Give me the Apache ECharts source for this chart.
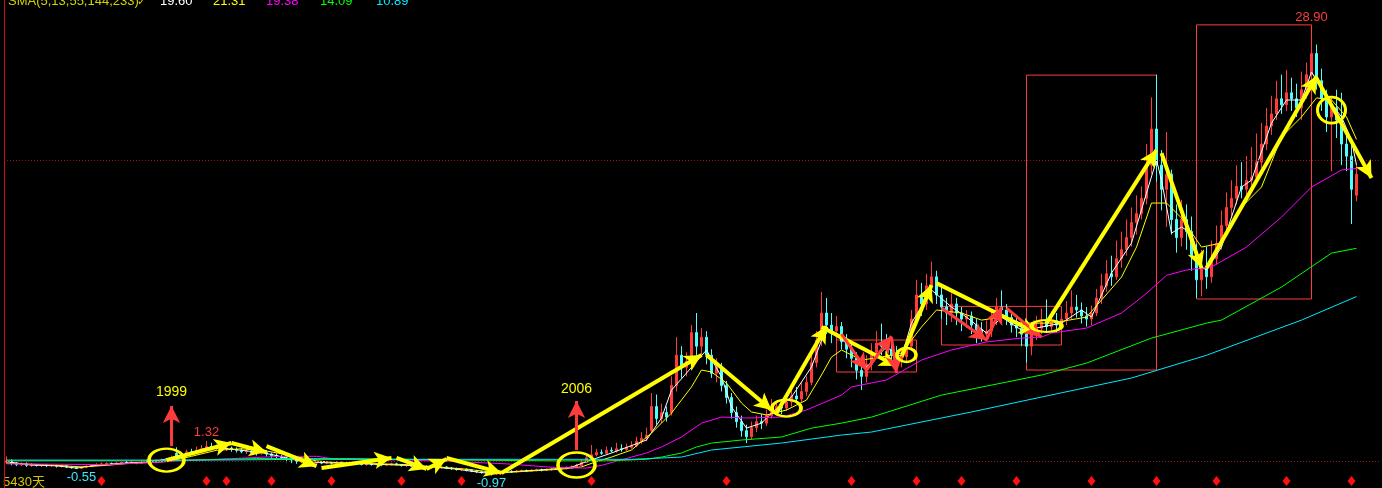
<!DOCTYPE html>
<html><head><meta charset="utf-8">
<script src="https://cdn.jsdelivr.net/npm/echarts@6/dist/echarts.min.js"></script>
<style>html,body{margin:0;padding:0;background:#000;overflow:hidden}#c{width:1382px;height:488px}</style>
</head><body><div id="c"></div>
<script>
// ---- data (open, close, low, high), one candle per slot ----
const candles = [
[-0.1,0.0,-0.2,0.3],[0.0,-0.15,-0.3,0.1],[-0.15,-0.25,-0.35,-0.05],[-0.25,-0.2,-0.35,-0.1],[-0.2,-0.3,-0.4,-0.1],
[-0.3,-0.25,-0.4,-0.15],[-0.25,-0.3,-0.38,-0.2],[-0.3,-0.28,-0.4,-0.2],[-0.28,-0.32,-0.42,-0.2],[-0.32,-0.3,-0.4,-0.22],
[-0.3,-0.35,-0.45,-0.25],[-0.35,-0.33,-0.45,-0.25],[-0.33,-0.4,-0.48,-0.3],[-0.4,-0.45,-0.52,-0.35],[-0.45,-0.5,-0.55,-0.4],
[-0.5,-0.42,-0.55,-0.38],[-0.42,-0.35,-0.48,-0.3],[-0.35,-0.3,-0.42,-0.25],[-0.3,-0.25,-0.35,-0.15],[-0.25,-0.2,-0.3,-0.1],
[-0.2,-0.18,-0.28,-0.1],[-0.18,-0.2,-0.28,-0.1],[-0.2,-0.15,-0.25,-0.05],[-0.15,-0.1,-0.22,0.0],[-0.1,-0.12,-0.2,0.0],
[-0.12,-0.1,-0.2,0.05],[-0.1,-0.15,-0.22,0.0],[-0.15,-0.1,-0.2,0.05],[-0.1,-0.05,-0.15,0.1],[-0.05,-0.1,-0.2,0.05],
[-0.1,0.0,-0.15,0.1],[0.0,0.05,-0.1,0.15],[0.05,0.1,-0.05,0.2],[0.1,0.2,0.0,0.35],[0.5,0.3,0.2,0.9],
[0.3,0.45,0.25,0.6],[0.45,0.6,0.35,0.75],[0.6,0.55,0.45,0.8],[0.55,0.7,0.45,0.95],[0.7,0.8,0.55,1.05],
[0.8,0.95,0.65,1.32],[0.95,0.85,0.7,1.2],[0.85,0.9,0.7,1.1],[0.9,0.8,0.65,1.05],[0.8,0.85,0.65,1.0],
[0.85,0.75,0.6,0.95],[0.75,0.7,0.55,0.9],[0.7,0.6,0.5,0.85],[0.6,0.65,0.45,0.8],[0.65,0.55,0.4,0.75],
[0.55,0.5,0.35,0.7],[0.5,0.55,0.4,0.85],[0.55,0.45,0.3,0.7],[0.45,0.35,0.2,0.55],[0.35,0.3,0.15,0.5],
[0.3,0.2,0.05,0.4],[0.2,0.1,-0.1,0.3],[0.1,0.05,-0.15,0.25],[0.05,-0.05,-0.2,0.15],[-0.05,0.0,-0.15,0.1],
[0.0,-0.1,-0.2,0.05],[-0.1,-0.15,-0.25,0.0],[-0.15,-0.1,-0.25,0.0],[-0.1,-0.15,-0.22,-0.05],[-0.15,-0.12,-0.22,-0.05],
[-0.12,-0.15,-0.25,-0.05],[-0.15,-0.1,-0.2,0.0],[-0.1,-0.15,-0.22,-0.05],[-0.15,-0.2,-0.28,-0.1],[-0.2,-0.15,-0.25,-0.1],
[-0.15,-0.2,-0.28,-0.1],[-0.2,-0.25,-0.3,-0.12],[-0.25,-0.2,-0.32,-0.15],[-0.2,-0.25,-0.32,-0.15],[-0.25,-0.22,-0.3,-0.15],
[-0.22,-0.28,-0.35,-0.15],[-0.28,-0.25,-0.35,-0.18],[-0.25,-0.2,-0.3,-0.12],[-0.2,-0.25,-0.32,-0.12],[-0.25,-0.3,-0.38,-0.2],
[-0.3,-0.28,-0.4,-0.2],[-0.28,-0.35,-0.42,-0.22],[-0.35,-0.3,-0.42,-0.25],[-0.3,-0.38,-0.45,-0.25],[-0.38,-0.42,-0.5,-0.3],
[-0.42,-0.4,-0.5,-0.32],[-0.4,-0.45,-0.52,-0.35],[-0.45,-0.4,-0.5,-0.35],[-0.4,-0.48,-0.55,-0.35],[-0.48,-0.52,-0.6,-0.42],
[-0.52,-0.58,-0.65,-0.45],[-0.58,-0.55,-0.68,-0.48],[-0.55,-0.62,-0.7,-0.5],[-0.62,-0.68,-0.75,-0.55],[-0.68,-0.72,-0.8,-0.6],
[-0.72,-0.78,-0.85,-0.65],[-0.78,-0.82,-0.9,-0.7],[-0.82,-0.88,-0.97,-0.75],[-0.88,-0.8,-0.95,-0.72],[-0.8,-0.75,-0.88,-0.68],
[-0.75,-0.7,-0.82,-0.62],[-0.7,-0.72,-0.8,-0.62],[-0.72,-0.68,-0.8,-0.6],[-0.68,-0.65,-0.75,-0.58],[-0.65,-0.68,-0.75,-0.58],
[-0.68,-0.62,-0.72,-0.55],[-0.62,-0.6,-0.7,-0.52],[-0.6,-0.62,-0.7,-0.52],[-0.62,-0.58,-0.68,-0.5],[-0.58,-0.55,-0.65,-0.48],
[-0.55,-0.52,-0.62,-0.45],[-0.52,-0.5,-0.6,-0.42],[-0.5,-0.45,-0.58,-0.38],[-0.45,-0.4,-0.52,-0.3],[-0.4,-0.3,-0.48,-0.2],
[-0.3,-0.1,-0.35,0.05],[-0.1,0.2,-0.15,0.4],
[0.2,0.4,0.1,1.05],[0.4,0.55,0.3,0.8],[0.55,0.5,0.4,0.75],[0.5,0.7,0.45,0.95],[0.7,0.65,0.55,0.9],
[0.65,0.8,0.55,1.2],[0.8,0.75,0.6,1.1],[0.75,0.9,0.65,1.15],[0.9,1.0,0.8,1.3],[1.0,1.3,0.9,1.6],
[1.3,1.5,1.1,1.9],[1.5,1.7,1.3,2.2],[2.0,3.6,1.9,4.5],[3.6,2.8,2.4,4.4],[2.8,3.2,2.5,3.8],
[3.2,2.9,2.6,3.6],[3.2,5.0,3.0,5.6],[5.0,7.0,4.6,8.2],[7.0,6.2,5.5,7.6],[6.2,6.6,5.6,7.2],
[6.6,8.5,6.2,9.0],[8.5,7.6,7.0,9.8],[7.6,8.2,7.0,8.8],[8.2,7.0,6.4,8.6],[7.0,5.8,5.5,7.4],
[5.8,6.2,5.2,6.8],[6.2,5.0,4.6,6.5],[5.0,4.2,3.8,5.3],[4.2,3.2,2.8,4.5],[3.2,2.6,2.2,3.6],
[2.6,2.0,1.6,3.0],[2.0,1.6,1.18,2.4],[1.6,2.2,1.4,2.6],[2.2,2.6,1.9,3.0],[2.6,2.5,2.1,3.1],
[2.5,3.0,2.3,3.4],[3.0,3.3,2.8,4.1],[3.3,3.6,3.0,4.0],[3.6,3.5,3.1,4.0],[3.5,3.9,3.3,4.3],
[3.9,4.3,3.6,4.7],[4.3,4.1,3.8,4.9],[4.1,4.6,3.9,5.2],[4.6,5.2,4.3,5.6],[5.2,6.5,5.0,7.0],
[6.5,8.0,6.2,8.6],[8.0,9.8,7.6,11.2],[9.8,9.0,8.4,10.8],[9.0,8.6,7.8,9.8],[8.6,8.9,7.6,9.6],
[8.9,7.9,7.4,9.2],[7.9,7.4,6.8,8.4],[7.4,6.8,6.2,7.8],[6.8,6.0,5.4,7.2],[6.0,5.6,4.7,6.6],
[5.6,6.4,5.2,7.0],[6.4,7.2,6.0,7.8],[7.2,7.8,6.8,8.6],[7.8,7.6,7.0,9.1],[7.6,7.4,6.8,8.4],
[7.4,7.0,6.5,8.0],[7.0,6.6,6.1,7.6],[6.6,6.9,6.2,7.4],[6.9,7.6,6.6,8.0],[7.6,9.4,7.3,10.0],
[9.4,11.0,9.0,12.0],[11.0,10.4,9.6,11.8],[10.4,11.6,10.0,12.4],[11.6,12.2,11.0,13.2],[12.2,11.0,10.4,12.6],
[11.0,10.2,9.4,11.6],[10.2,9.8,9.0,10.8],[9.8,10.4,9.2,11.1],[10.4,9.8,9.0,10.8],[9.8,9.4,8.6,10.2],
[9.4,9.6,8.8,10.0],[9.6,9.0,8.4,9.9],[9.0,8.7,7.8,9.4],[8.7,8.4,7.9,9.2],[8.4,8.6,7.9,9.3],
[8.6,9.4,8.2,10.0],[9.4,10.2,9.0,10.8],[10.2,10.0,9.4,11.3],[10.0,9.5,9.0,10.4],[9.5,9.0,8.5,9.8],
[9.0,8.8,8.2,9.5],[8.8,8.4,7.6,9.4],[8.4,7.6,6.5,9.0],[7.6,8.5,7.0,9.2],[8.5,8.8,8.0,9.6],
[8.8,9.2,8.4,10.1],[9.2,8.9,8.5,10.7],[8.9,9.3,8.6,9.9],[9.3,9.0,8.5,9.8],[9.0,9.4,8.8,10.0],
[9.4,9.8,9.0,10.6],[9.8,10.2,9.4,11.3],[10.2,10.0,9.5,11.0],[10.0,9.6,9.1,10.5],[9.6,9.4,8.9,10.2],
[9.4,9.8,9.0,10.3],[9.8,10.8,9.6,11.4],[10.8,11.6,10.4,12.4],[11.6,12.4,11.2,13.3],[12.4,12.2,11.6,13.6],
[12.2,13.4,12.0,14.6],[13.4,14.0,12.8,15.2],[14.0,14.8,13.6,16.0],[14.8,15.8,14.2,16.8],[15.8,16.4,15.0,17.6],
[16.4,17.4,16.0,18.2],[17.4,19.6,17.0,21.0],[19.6,22.0,19.0,24.1],[22.0,19.6,18.5,25.6],[19.6,18.0,16.6,20.6],
[18.0,19.0,15.5,21.8],[19.0,16.0,15.0,19.3],[16.0,14.8,13.8,17.0],[14.8,16.0,14.2,17.3],[16.0,15.2,14.0,17.0],
[15.2,13.6,12.6,16.2],[13.6,12.0,10.8,14.4],[12.0,12.8,10.9,14.0],[12.8,12.2,11.4,14.2],[12.2,13.4,11.8,14.6],
[13.4,14.4,13.0,15.6],[14.4,15.6,14.0,16.6],[15.6,16.8,15.2,17.8],[16.8,17.4,16.2,18.6],[17.4,18.2,17.0,19.6],
[18.2,18.0,17.4,19.8],[18.0,18.6,17.6,20.2],[18.6,18.8,18.0,20.8],[18.8,19.8,18.4,21.7],[19.8,21.0,19.4,22.4],
[21.0,22.2,20.6,23.4],[22.2,23.0,21.6,24.2],[23.0,24.0,22.6,25.2],[24.0,23.6,23.0,25.6],[23.6,24.4,23.2,25.9],
[24.4,24.0,23.2,25.4],[24.0,23.4,22.8,25.0],[23.4,24.6,22.6,25.8],[24.6,25.6,24.0,26.4],[25.6,27.0,25.2,28.9],
[27.0,25.2,24.6,27.6],[25.2,24.0,23.2,26.0],[24.0,22.8,21.8,24.6],[22.8,23.4,19.2,24.2],[23.4,22.6,21.4,24.6],
[22.6,21.0,19.6,24.4],[21.0,20.2,19.2,21.8],[20.2,18.0,15.7,21.0],[17.6,19.0,17.2,19.6]
];
const categories = Array.from({length: 275}, (_, k) => String(k + 1));

// moving averages as [slot, value]
const ma5 = [[0,-0.05],[5,-0.28],[10,-0.33],[14,-0.48],[18,-0.3],[22,-0.18],[27,-0.1],[31,0.05],[34,0.3],[37,0.55],[40,0.85],[43,0.85],[47,0.7],[51,0.55],[54,0.35],[57,0.1],[60,-0.05],[64,-0.13],[70,-0.18],[75,-0.24],[80,-0.3],[85,-0.4],[90,-0.55],[95,-0.78],[98,-0.82],[102,-0.7],[106,-0.62],[110,-0.52],[113,-0.42],[116,-0.05],
[121,0.52],[128,1.38],[131,2.84],[133,4.69],[136,5.82],[140,7.35],[143,5.56],[145,3.57],[148,2.17],[151,2.5],[153,3.17],[157,4.23],[161,6.22],[164,8.87],[165,8.47],[168,7.81],[172,6.22],[176,7.54],[179,6.88],[181,9.13],[185,11.32],[189,10.2],[192,9.53],[196,8.47],[199,9.53],[203,8.67],[207,8.87],[211,9.13],[215,10.0],[217,9.53],[221,12.45],[225,14.44],[228,17.75],[230,19.94],[231,18.61],[233,15.1],[235,15.5],[237,15.1],[239,12.85],[240,12.65],[243,14.17],[247,18.15],[249,18.61],[253,22.39],[256,23.92],[259,23.92],[261,25.78],[264,24.12],[267,22.8],[269,21.27],[270,19.60]];
const ma13 = [[0,-0.15],[10,-0.3],[15,-0.4],[20,-0.3],[25,-0.15],[30,-0.1],[33,0.0],[37,0.3],[42,0.7],[47,0.8],[52,0.65],[57,0.35],[62,0.0],[66,-0.12],[75,-0.2],[80,-0.25],[86,-0.4],[92,-0.55],[97,-0.75],[101,-0.75],[106,-0.65],[111,-0.55],[115,-0.4],[118,-0.05],
[121,0.25],[125,0.72],[129,1.84],[133,3.17],[137,4.9],[139,6.02],[141,5.89],[144,5.16],[147,3.83],[149,3.24],[152,3.04],[156,3.37],[160,4.03],[163,5.69],[165,6.88],[167,7.35],[171,6.68],[175,6.88],[179,7.15],[183,8.87],[186,10.0],[191,9.8],[195,9.33],[199,9.53],[203,9.13],[209,9.13],[216,9.53],[219,10.66],[223,12.18],[226,14.17],[229,17.09],[232,17.09],[235,16.1],[239,14.17],[243,14.44],[247,16.82],[251,18.15],[255,21.47],[259,22.8],[262,24.06],[265,23.93],[268,22.8],[270,21.31]];
const ma55 = [[0,-0.2],[20,-0.25],[30,-0.1],[35,0.0],[45,0.15],[55,0.3],[62,0.3],[66,0.1],[80,0.05],[90,-0.05],[100,-0.2],[110,-0.45],[116,-0.48],[119,-0.3],[125,0.25],[128,0.52],[131,0.92],[135,1.58],[139,2.5],[143,2.9],[148,2.84],[155,2.9],[160,3.37],[167,4.36],[169,4.9],[176,5.36],[183,6.68],[189,7.35],[196,7.88],[203,8.14],[207,8.2],[209,8.47],[216,8.8],[223,9.8],[228,11.1],[232,12.3],[236,12.65],[239,12.78],[241,12.85],[248,14.17],[255,16.16],[261,18.15],[267,19.28],[270,19.38]];
const ma144 = [[0,0.0],[30,0.0],[50,0.15],[70,0.15],[90,0.05],[110,0.0],[120,0.0],[128,0.1],[131,0.25],[135,0.52],[138,0.92],[141,1.18],[147,1.38],[155,1.58],[161,2.17],[167,2.5],[173,2.9],[187,4.36],[200,5.22],[207,5.69],[216,6.48],[229,8.14],[240,9.13],[243,9.33],[255,11.52],[265,13.77],[270,14.09]];
const ma233 = [[0,0.05],[40,0.05],[60,0.1],[90,0.1],[125,0.1],[135,0.25],[141,0.72],[155,1.18],[167,1.71],[173,1.91],[193,3.24],[207,4.23],[225,5.49],[240,7.0],[259,9.33],[270,10.89]];
const maNames = ['SMA5', 'SMA13', 'SMA55', 'SMA144', 'SMA233'];
const maLast = ['19.60', '21.31', '19.38', '14.09', '10.89'];

// drawn annotations, in [slot, price]
const yellowArrows = [[32,0.05,45,1.18],[45,1.18,52,0.58],[52,0.98,62,-0.35],[63,-0.48,77,0.19],[78,0.19,84,-0.54],[84,-0.54,88,0.12],[88,0.19,99,-0.8],[99,-0.8,139,7.02],[140,7.02,153,3.37],[154,3.17,164,8.93],[163,8.87,178,6.29],[179,6.88,185,11.65],[186,11.78,206,8.47],[208,9.13,230,20.6],[231,20.4,239,12.78],[240,12.78,262,25.5],[262,25.37,273,18.75]];
const redArrows = [[167,8.4,172,6.02],[172,6.02,177,8.27],[177,8.2,178,5.82],[187,10.13,196,8.01],[196,8.01,199,10.2],[200,10.13,207,8.2],[33,0.98,33,3.64],[114,0.72,114,3.97]];
const boxes = [[204,25.57,230,6.02],[238,28.9,261,10.73],[166,8.01,182,5.89],[187,10.24,211,7.68]];
const rings = [[32,0.05],[114,-0.28],[156,3.5],[180,7.02],[208,8.94],[265,23.25]];
const ringSizes = [[35,23],[37,25],[29,17],[19,14],[30,12],[28,26]];
const markerSlots = [19,40,44,53,65,79,91,117,144,169,182,191,202,217,230,242,256,269];
const markerLevel = -1.34;
const yearNotes = [['1999',33,4.56],['2006',114,4.76]];
const highLowNotes = [['1.32',40,1.91,'#ff3c3c'],['28.90',261,29.42,'#ff3c3c'],['-0.55',15,-1.07,'#3ce8ff'],['-0.97',97,-1.47,'#3ce8ff']];
const refLevels = [0, 19.92];

// ---- chart ----
const FONT = '"Liberation Sans", Arial, "Noto Sans CJK SC", sans-serif';
const chart = echarts.init(document.getElementById('c'), null, {renderer: 'canvas'});
const maColors = ['#ffffff', '#ffff00', '#ff00ff', '#00ff00', '#00e8ff'];
const maData = [ma5, ma13, ma55, ma144, ma233];

const lineSeries = maData.map((d, k) => ({
  name: maNames[k], type: 'line', data: d, showSymbol: false, symbol: 'none',
  lineStyle: {color: maColors[k], width: 1}, z: 3, silent: true
}));

const arrowLines = yellowArrows.map(a => [
  {coord: [a[0], a[1]], lineStyle: {color: '#ffff00', width: 4}, symbol: 'none'},
  {coord: [a[2], a[3]], symbol: 'arrow'}
]).concat(redArrows.map(a => [
  {coord: [a[0], a[1]], lineStyle: {color: '#ff3c3c', width: 3}},
  {coord: [a[2], a[3]]}
]));

const points = [];
rings.forEach((r, k) => points.push({coord: r, symbol: 'circle', symbolSize: ringSizes[k],
  itemStyle: {color: 'rgba(0,0,0,0)', borderColor: '#ffff00', borderWidth: 3}, label: {show: false}}));
markerSlots.forEach(s => points.push({coord: [s, markerLevel], symbol: 'diamond', symbolSize: [8, 10],
  itemStyle: {color: '#ff1010'}, label: {show: false}}));
yearNotes.forEach(n => points.push({coord: [n[1], n[2]], symbol: 'rect', symbolSize: 1,
  itemStyle: {color: 'rgba(0,0,0,0)'},
  label: {show: true, position: 'inside', formatter: n[0], color: '#ffff00', fontSize: 14, fontFamily: FONT}}));
highLowNotes.forEach(n => points.push({coord: [n[1], n[2]], symbol: 'rect', symbolSize: 1,
  itemStyle: {color: 'rgba(0,0,0,0)'},
  label: {show: true, position: 'inside', formatter: n[0], color: n[3], fontSize: 13, fontFamily: FONT}}));

const option = {
  backgroundColor: '#000000',
  animation: false,
  grid: {left: 4, right: 3, top: 0, bottom: 0, containLabel: false},
  xAxis: {type: 'category', data: categories, boundaryGap: true,
    axisLine: {show: false}, axisTick: {show: false}, axisLabel: {show: false}, splitLine: {show: false}},
  yAxis: {type: 'value', min: -1.8, max: 30.55, scale: true,
    axisLine: {show: true, lineStyle: {color: '#d01010', width: 1}}, axisTick: {show: false},
    axisLabel: {show: false}, splitLine: {show: false}},
  series: [
    {type: 'candlestick', data: candles, barWidth: 2, z: 2, silent: true,
     itemStyle: {color: '#ff3c3c', color0: '#54fcfc', borderColor: '#ff3c3c', borderColor0: '#54fcfc', borderWidth: 1},
     markLine: {silent: true, symbol: 'none', label: {show: false},
       lineStyle: {color: '#a01414', type: [1, 2], width: 1},
       data: refLevels.map(v => ({yAxis: v}))}
    },
    ...lineSeries,
    {type: 'scatter', data: [], z: 6, silent: true,
     markArea: {silent: true, itemStyle: {color: 'rgba(0,0,0,0)', borderColor: '#ff3c3c', borderWidth: 1},
       label: {show: false},
       data: boxes.map(b => [{coord: [b[0], b[1]]}, {coord: [b[2], b[3]]}])},
     markLine: {silent: true, symbol: ['none', 'arrow'], symbolSize: [13, 17], label: {show: false},
       lineStyle: {type: 'solid'}, data: arrowLines},
     markPoint: {silent: true, data: points}
    }
  ],
  graphic: [
    {type: 'text', left: 8, top: -5, style: {text: 'SMA(5,13,55,144,233)', fill: '#d2d200', font: '13px ' + FONT}},
    {type: 'text', left: 137, top: -3, style: {text: '✓', fill: '#d2d200', font: '11px "DejaVu Sans"'}},
    ...maLast.map((t, k) => ({type: 'text', left: [160, 213, 266, 320, 376][k], top: -5,
      style: {text: t, fill: maColors[k], font: '13px ' + FONT}})),
    {type: 'text', left: 3, top: 476, style: {text: '5430天', fill: '#d2c800', font: '13px ' + FONT}}
  ]
};
chart.setOption(option);
</script></body></html>
